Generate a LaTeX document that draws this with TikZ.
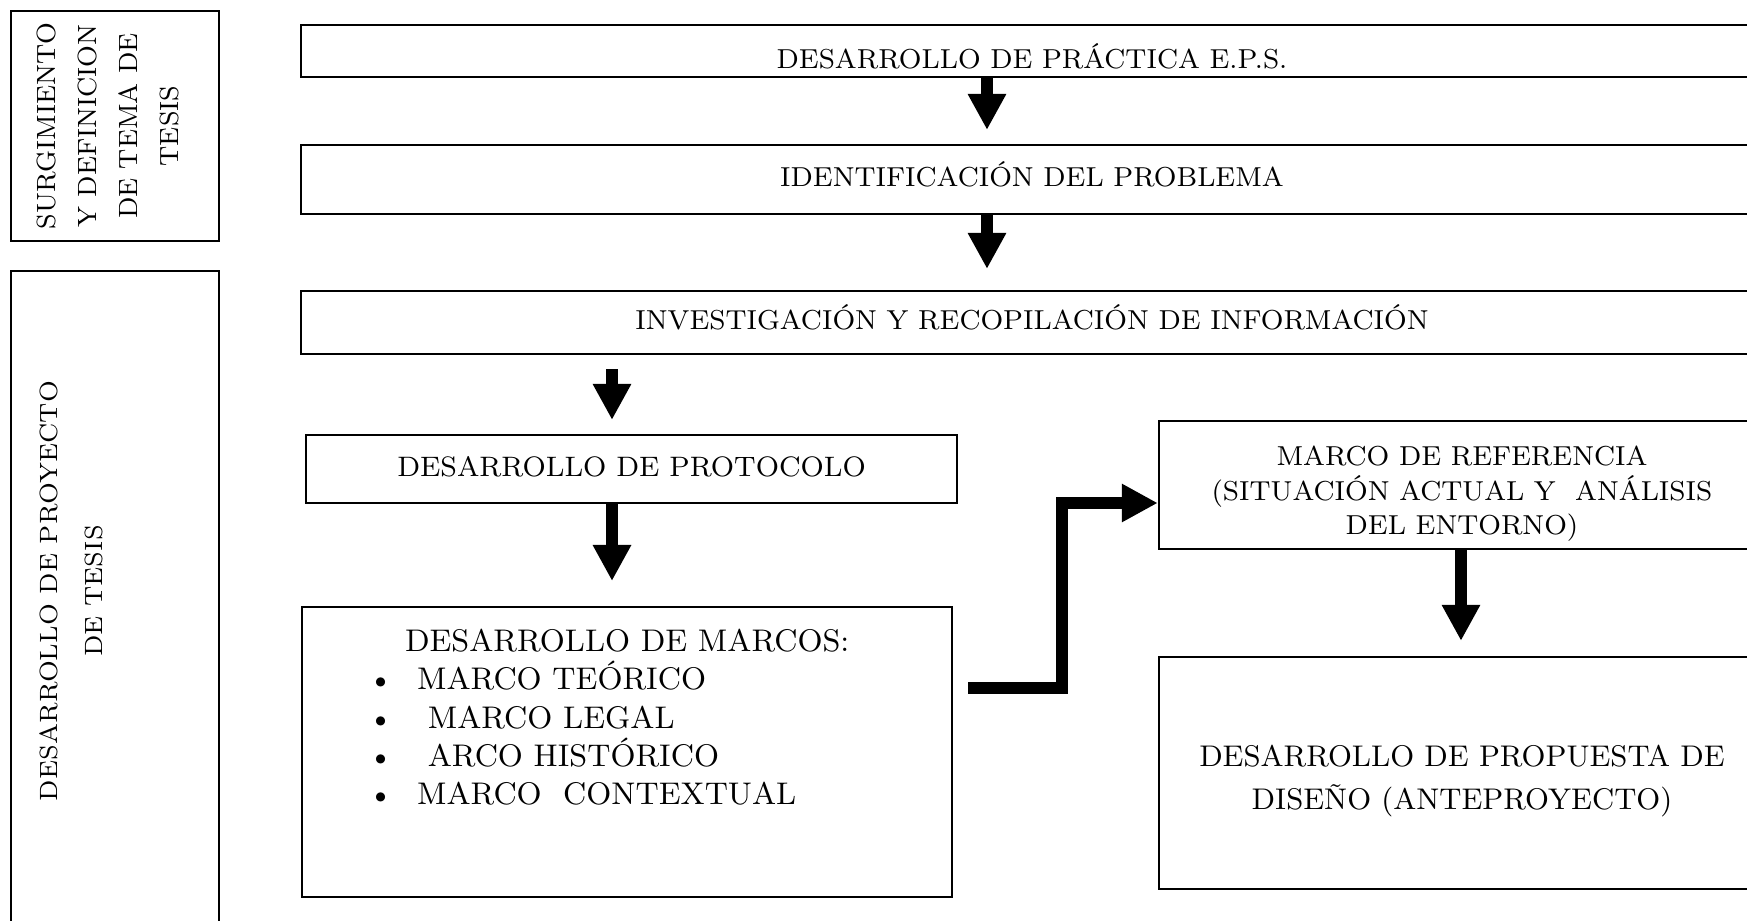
\documentclass[tikz,border=0pt]{standalone}
\usepackage{tikz}
\usetikzlibrary{arrows.meta}
\tikzstyle{caja} = [draw=black, line width=0.6pt, rectangle,
                    inner sep=0pt, align=center,
                    text height=0.19cm, text depth=0.05cm,
                    font=\fontsize{7.8}{9.8}\selectfont]
\tikzstyle{texto} = [align=center, inner sep=0pt,
                     font=\fontsize{7.8}{9.8}\selectfont]
\tikzstyle{vertical} = [rotate=90, align=center, inner sep=0pt,
                        font=\fontsize{7.5}{11.6}\selectfont]
\tikzstyle{flecha} = [line width=0.12cm,
                      -{Triangle[width=0.36cm, length=0.36cm]}]

\begin{document}
\begin{tikzpicture}[x=0.01cm, y=-0.01cm]%
  \useasboundingbox (0,0) rectangle (1747,921);
  % etapas a la izquierda
  \node[caja, minimum width=2.08cm, minimum height=2.30cm] (surg) at (115,126) {};
  \node[vertical] (surgtxt) at (108,126) {SURGIMIENTO\\Y DEFINICION\\DE TEMA DE\\TESIS};
  \node[caja, minimum width=2.08cm, minimum height=6.64cm] (proy) at (115,603) {};
  \node[vertical, font=\fontsize{7.1}{12.8}\selectfont] (proytxt) at (71,591)
    {DESARROLLO DE PROYECTO\\DE TESIS};
  % pasos
  \node[caja, minimum width=14.62cm, minimum height=0.52cm, text height=0.40cm]
    (eps) at (1032,51) {DESARROLLO DE PRÁCTICA E.P.S.};
  \node[caja, minimum width=14.62cm, minimum height=0.69cm] (prob) at (1032,179.5)
    {IDENTIFICACIÓN DEL PROBLEMA};
  \node[caja, minimum width=14.62cm, minimum height=0.63cm] (inv) at (1032,322.5)
    {INVESTIGACIÓN Y RECOPILACIÓN DE INFORMACIÓN};
  \node[caja, minimum width=6.51cm, minimum height=0.68cm, font=\fontsize{8}{9.8}\selectfont]
    (proto) at (631.5,469) {DESARROLLO DE PROTOCOLO};
  \node[caja, anchor=north west, text height=, text depth=,
        font=\fontsize{8.9}{10.9}\selectfont] (marcos) at (301,606) {%
    \begin{minipage}[t][2.90cm][t]{6.50cm}
      \vspace*{0.22cm}
      \centering DESARROLLO DE MARCOS:\par
      \raggedright
      \hspace*{0.66cm}\makebox[0.49cm][l]{\textbullet}MARCO TEÓRICO\par
      \hspace*{0.66cm}\makebox[0.49cm][l]{\textbullet}\ MARCO LEGAL\par
      \hspace*{0.66cm}\makebox[0.49cm][l]{\textbullet}\ ARCO HISTÓRICO\par
      \hspace*{0.66cm}\makebox[0.49cm][l]{\textbullet}MARCO~~CONTEXTUAL\par
    \end{minipage}%
  };
  \node[caja, minimum width=6.06cm, minimum height=1.28cm] (mref) at (1462,485) {};
  \node[texto, yshift=-0.09cm] (mreftxt) at (mref.center)
    {MARCO DE REFERENCIA\\(SITUACIÓN ACTUAL Y~~ANÁLISIS\\DEL ENTORNO)};
  \node[caja, minimum width=6.06cm, minimum height=2.32cm] (prop) at (1462,773) {};
  \node[texto, yshift=-0.08cm, font=\fontsize{8.5}{12}\selectfont] (proptxt) at (prop.center)
    {DESARROLLO DE PROPUESTA DE\\DISEÑO (ANTEPROYECTO)};
  % columnas y filas de las flechas
  \coordinate (colA) at (987,0);
  \coordinate (colB) at (612,0);
  \coordinate (colC) at (1461,0);
  \coordinate (codo) at (1062,0);
  \coordinate (filaA) at (0,688);
  \coordinate (filaB) at (0,503);
  \draw[flecha, shorten >=0.14cm] (eps.south -| colA) -- (prob.north -| colA);
  \draw[flecha, shorten >=0.21cm] (prob.south -| colA) -- (inv.north -| colA);
  \draw[flecha, shorten <=0.14cm, shorten >=0.14cm] (inv.south -| colB) -- (proto.north -| colB);
  \draw[flecha, shorten >=0.25cm] (proto.south -| colB) -- (marcos.north -| colB);
  \draw[flecha, shorten >=0.15cm] (mref.south -| colC) -- (prop.north -| colC);
  \draw[flecha, shorten <=0.15cm] (marcos.east |- filaA) -| (codo |- filaB) -- (mref.west |- filaB);
\end{tikzpicture}
\end{document}
